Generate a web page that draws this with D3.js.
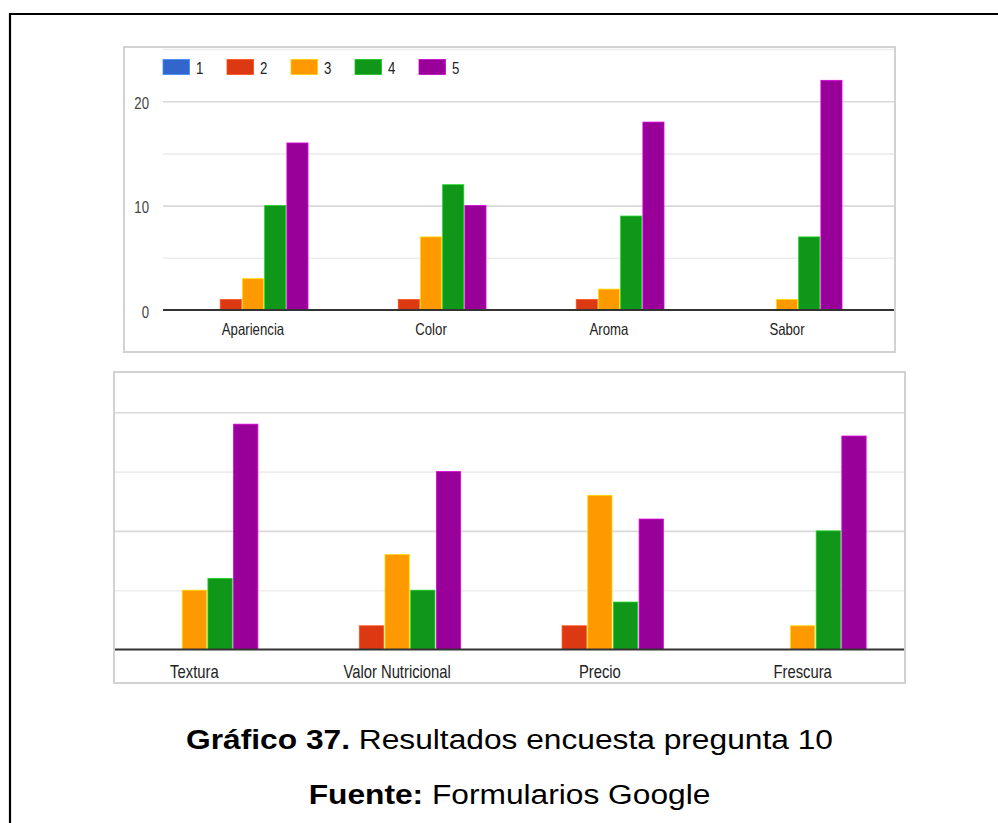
<!DOCTYPE html>
<html>
<head>
<meta charset="utf-8">
<script src="https://cdn.jsdelivr.net/npm/d3@7"></script>
<style>
  html, body { margin: 0; padding: 0; background: #fff; }
  svg { display: block; }
  text { font-family: "Liberation Sans", Arial, sans-serif; }
</style>
</head>
<body>
<svg id="chart" width="998" height="823"></svg>
<script>
// Survey question 10: number of answers per rating (1..5) for each attribute
const ratings = ["1", "2", "3", "4", "5"];
const ratingColors = ["#3366cc", "#dc3912", "#ff9900", "#109618", "#990099"];

const topCategories = ["Apariencia", "Color", "Aroma", "Sabor"];
const topRating1 = [0, 0, 0, 0];
const topRating2 = [1, 1, 1, 0];
const topRating3 = [3, 7, 2, 1];
const topRating4 = [10, 12, 9, 7];
const topRating5 = [16, 10, 18, 22];

const bottomCategories = ["Textura", "Valor Nutricional", "Precio", "Frescura"];
const bottomRating1 = [0, 0, 0, 0];
const bottomRating2 = [0, 2, 2, 0];
const bottomRating3 = [5, 8, 13, 2];
const bottomRating4 = [6, 5, 4, 10];
const bottomRating5 = [19, 15, 11, 18];

const topGridValues = [5, 10, 15, 20, 25];
const topTickLabels = [0, 10, 20];
const bottomGridValues = [5, 10, 15, 20];

const captionBold = "Gráfico 37.";
const captionText = " Resultados encuesta pregunta 10";
const sourceBold = "Fuente:";
const sourceText = " Formularios Google";

const svg = d3.select("#chart");
const narrow = 0.8; // chart lettering is horizontally condensed

// page frame (top and left rules)
svg.append("line").attr("x1", 9).attr("x2", 998).attr("y1", 14).attr("y2", 14)
  .attr("stroke", "#000").attr("stroke-width", 2.2);
svg.append("line").attr("x1", 10).attr("x2", 10).attr("y1", 13).attr("y2", 823)
  .attr("stroke", "#000").attr("stroke-width", 2.2);

function buildRows(categories, seriesArrays) {
  return categories.map((c, i) => ({
    category: c,
    values: ratings.map((r, j) => ({ rating: r, value: seriesArrays[j][i], color: ratingColors[j] }))
  }));
}

function drawChart(cfg) {
  const g = svg.append("g");
  g.append("rect")
    .attr("x", cfg.box[0]).attr("y", cfg.box[1])
    .attr("width", cfg.box[2]).attr("height", cfg.box[3])
    .attr("fill", "#fff").attr("stroke", "#d2d2d2").attr("stroke-width", 2);

  const y = d3.scaleLinear().domain(cfg.yDomain).range(cfg.yRange);
  const x0 = d3.scaleBand().domain(cfg.categories).range(cfg.xRange);
  const x1 = d3.scaleBand().domain(ratings).range([0, cfg.groupWidth]).paddingInner(cfg.barGap);
  const groupOffset = (x0.bandwidth() - cfg.groupWidth) / 2;

  // gridlines
  const grid = g.append("g")
    .attr("transform", `translate(${cfg.gridX[0]},0)`)
    .call(d3.axisLeft(y).tickValues(cfg.gridValues)
      .tickSize(-(cfg.gridX[1] - cfg.gridX[0])).tickFormat(""));
  grid.select(".domain").remove();
  grid.selectAll(".tick line")
    .attr("stroke", d => (d % 10 === 0 ? "#d9d9d9" : "#ededed"))
    .attr("stroke-width", 1.6);

  // tick labels
  if (cfg.tickLabels) {
    const ticks = g.append("g")
      .attr("transform", `translate(${cfg.tickLabelX},0)`)
      .call(d3.axisLeft(y).tickValues(cfg.tickLabels).tickSize(0).tickPadding(0));
    ticks.select(".domain").remove();
    ticks.selectAll(".tick text")
      .attr("x", 0).attr("dy", null).attr("y", 7)
      .attr("font-size", cfg.fontSize).attr("fill", "#444")
      .attr("font-family", null)
      .attr("transform", `scale(${narrow},1)`);
  }

  // legend
  if (cfg.legend) {
    const leg = g.append("g").selectAll("g").data(ratings).join("g")
      .attr("transform", (d, i) => `translate(${cfg.legend.x + i * cfg.legend.step},${cfg.legend.y})`);
    leg.append("rect").attr("width", 26.5).attr("height", 15)
      .attr("fill", (d, i) => ratingColors[i])
      .attr("stroke", (d, i) => d3.color(ratingColors[i]).brighter(0.8))
      .attr("stroke-width", 0.8);
    leg.append("text")
      .attr("transform", `translate(33,14) scale(${narrow},1)`)
      .attr("font-size", cfg.fontSize).attr("fill", "#222")
      .text(d => d);
  }

  // bars
  const rows = buildRows(cfg.categories, cfg.series);
  g.append("g").selectAll("g").data(rows).join("g")
    .attr("transform", d => `translate(${x0(d.category) + groupOffset},0)`)
    .selectAll("rect").data(d => d.values).join("rect")
    .attr("x", d => x1(d.rating))
    .attr("width", x1.bandwidth())
    .attr("y", d => y(d.value))
    .attr("height", d => y(0) - y(d.value))
    .attr("fill", d => d.color)
    .attr("stroke", d => (d.value > 0 ? d3.color(d.color).brighter(1) : "none"))
    .attr("stroke-width", 0.8);

  // baseline
  g.append("line")
    .attr("x1", cfg.gridX[0]).attr("x2", cfg.gridX[1])
    .attr("y1", y(0)).attr("y2", y(0))
    .attr("stroke", "#333").attr("stroke-width", 1.8);

  // category axis
  const xa = g.append("g")
    .attr("transform", `translate(0,${cfg.labelBaseline})`)
    .call(d3.axisBottom(x0).tickSize(0).tickPadding(0));
  xa.select(".domain").remove();
  xa.selectAll(".tick text")
    .attr("y", 0).attr("dy", null)
    .attr("font-size", cfg.fontSize).attr("fill", "#222")
    .attr("font-family", null)
    .attr("transform", `scale(${narrow},1)`);
}

drawChart({
  box: [124, 47, 771, 305],
  categories: topCategories,
  series: [topRating1, topRating2, topRating3, topRating4, topRating5],
  yDomain: [0, 25], yRange: [310, 49],
  xRange: [164, 876], groupWidth: 110, barGap: 0.05,
  gridX: [163, 894], gridValues: topGridValues,
  tickLabels: topTickLabels, tickLabelX: 149,
  legend: { x: 163, y: 59.5, step: 64 },
  fontSize: 16.5, labelBaseline: 335
});

drawChart({
  box: [114, 372, 791, 311],
  categories: bottomCategories,
  series: [bottomRating1, bottomRating2, bottomRating3, bottomRating4, bottomRating5],
  yDomain: [0, 20], yRange: [649.5, 412.3],
  xRange: [93, 904], groupWidth: 127, barGap: 0.055,
  gridX: [115, 904], gridValues: bottomGridValues,
  tickLabels: null, legend: null,
  fontSize: 18.5, labelBaseline: 677.5
});

// caption
function caption(boldPart, restPart, baseline) {
  const t = svg.append("text")
    .attr("transform", `translate(509.5,${baseline}) scale(1.175,1)`)
    .attr("text-anchor", "middle")
    .attr("font-size", 27).attr("fill", "#000");
  t.append("tspan").attr("font-weight", "bold").text(boldPart);
  t.append("tspan").text(restPart);
}
caption(captionBold, captionText, 748.5);
caption(sourceBold, sourceText, 803.5);
</script>
</body>
</html>
